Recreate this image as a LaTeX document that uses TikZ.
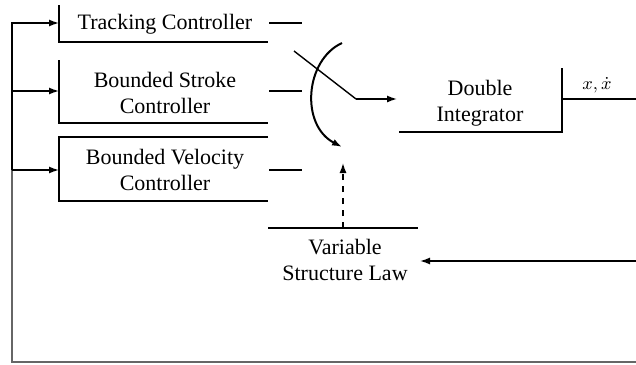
\documentclass[tikz,border=0pt]{standalone}
\usepackage{fontspec}
\setmainfont{Liberation Serif}
\usetikzlibrary{arrows.meta}
\tikzset{
  lbl/.style={align=center, inner sep=0pt, font=\fontsize{11}{13}\selectfont},
  edge/.style={line width=0.7pt},
  sig/.style={line width=0.7pt, -{Latex[length=5pt,width=3.5pt]}},
}
\begin{document}
\begin{tikzpicture}[x=0.5pt, y=-0.5pt]
\useasboundingbox (0,0) rectangle (636,364);
% block texts
\node[lbl] (track) at (165,24) {Tracking Controller};
\node[lbl] (stroke) at (165,93) {Bounded Stroke\\Controller};
\node[lbl] (velo) at (165,170) {Bounded Velocity\\Controller};
\node[lbl] (dint) at (480,103) {Double\\Integrator};
\node[lbl] (vsl) at (345,260) {Variable\\Structure Law};
\node[lbl, anchor=south, font=\fontsize{9}{11}\selectfont] (state) at (597,93) {$x,\dot{x}$};
% block corners and ports
\coordinate (trackin) at (59,23);
\coordinate (strokein) at (59,91);
\coordinate (veloin) at (59,170);
\coordinate (trackout) at (269,23);
\coordinate (strokeout) at (269,91);
\coordinate (veloout) at (269,170);
\coordinate (dintin) at (397,99);
\coordinate (dintout) at (562,99);
\coordinate (vslin) at (420,261);
\coordinate (vsltop) at (343,228);
\coordinate (pivot) at (356,99);
\coordinate (blade) at (294,51);
\coordinate (tip) at (343,163);
\coordinate (arcA) at (342,43);
\coordinate (arcB) at (342,147);
\coordinate (rightA) at (636,99);
\coordinate (rightB) at (636,261);
\coordinate (rightC) at (636,362);
\coordinate (corner) at (12,362);
\coordinate (branch) at (12,170);
% block outlines (only the edges that show)
\draw[edge] (59,5) -- (59,42) -- (268,42);
\draw[edge] (59,60) -- (59,123) -- (268,123);
\draw[edge] (268,137) -- (59,137) -- (59,201) -- (268,201);
\draw[edge] (399,132) -- (562,132) -- (562,68);
\draw[edge] (268,228) -- (418,228);
% controller outputs
\draw[edge] (trackout) -- ++(33,0);
\draw[edge] (strokeout) -- ++(33,0);
\draw[edge] (veloout) -- ++(33,0);
% switch
\draw[edge] (blade) -- (pivot);
\draw[sig] (pivot) -- (dintin);
\draw[sig, line width=1pt] (arcA) .. controls (305,60) and (300,125) .. (arcB);
\draw[sig, dashed] (vsltop) -- (tip);
% signals
\draw[edge] (dintout) -- (rightA);
\draw[sig] (rightB) -- (vslin);
\draw[edge, gray!80!black, line width=1pt] (rightC) -- (corner) -- (branch);
\draw[sig] (branch) -- (12,23) -- (trackin);
\draw[sig] (12,91) -- (strokein);
\draw[sig] (branch) -- (veloin);
\end{tikzpicture}
\end{document}
